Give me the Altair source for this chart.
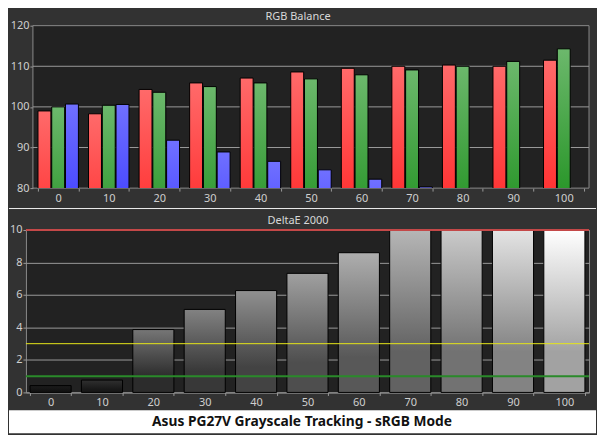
import altair as alt
import pandas as pd

steps = [0, 10, 20, 30, 40, 50, 60, 70, 80, 90, 100]
red = [99.0, 98.3, 104.3, 105.9, 107.1, 108.6, 109.5, 110.0, 110.3, 110.0, 111.5]
green = [100.0, 100.4, 103.6, 105.0, 105.9, 106.9, 107.9, 109.1, 110.0, 111.2, 114.3]
blue = [100.7, 100.6, 91.8, 88.9, 86.6, 84.5, 82.2, 80.3, None, None, None]
delta_e = [0.42, 0.76, 3.87, 5.11, 6.27, 7.33, 8.6, 10.9, 11.6, 12.4, 13.9]
thresholds = [10, 3, 1]
rgb_ticks = [80, 90, 100, 110, 120]
de_ticks = [0, 2, 4, 6, 8, 10]
top_title = "RGB Balance"
bottom_title = "DeltaE 2000"
main_title = "Asus PG27V Grayscale Tracking - sRGB Mode"

# styles / layout
FONT = "Noto Sans"
LABEL = "#cfcfcf"
L = 17            # left overflow of the bottom y axis (column origin offset)
X0 = 8 + L        # page x of the column origin
SHIFT = 7         # extra indent of the top plot
FULL_W = 589
PW = 590 - X0
PH = 163
PLOT_BG = "#222222"
FRAME = "#8a8a8a"
GRID = "#9a9a9a"
channel_grad = {
    "R": ["#ff6a6a", "#ff1e1e", "#ff0000"],
    "G": ["#6cb86c", "#168c16", "#007800"],
    "B": ["#7070ff", "#2a2aff", "#0000ff"],
}
gray_top = ["#1c1c1c", "#303030", "#767676", "#828282", "#909090", "#a0a0a0",
            "#aeaeae", "#b6b6b6", "#cacaca", "#e4e4e4", "#ffffff"]
gray_bot = ["#121212", "#181818", "#2c2c2c", "#383838", "#434343", "#4e4e4e",
            "#585858", "#626262", "#727272", "#838383", "#a2a2a2"]
thr_colors = ["#c44848", "#e6e619", "#2a8a2a"]
thr_widths = [2, 1, 2]


def grad(cols, mid=0.4):
    return alt.Gradient(
        gradient="linear", x1=0, x2=0, y1=0, y2=1,
        stops=[alt.GradientStop(color=cols[0], offset=0),
               alt.GradientStop(color=cols[1], offset=mid),
               alt.GradientStop(color=cols[2], offset=1)],
    )


rgb_df = pd.DataFrame({
    "step": steps * 3,
    "channel": ["R"] * 11 + ["G"] * 11 + ["B"] * 11,
    "value": red + green + blue,
})
de_df = pd.DataFrame({"step": steps, "de": delta_e})
thr_df = pd.DataFrame({"t": thresholds})
tick_df = pd.DataFrame({"tick": rgb_ticks[1:-1]})
one = pd.DataFrame({"a": [0]})
no_view = alt.ViewBackground(stroke="transparent")

x_axis = alt.Axis(title=None, labelAngle=0, tickBand="extent", grid=False,
                  domain=False, tickSize=3, labelPadding=1)

# ---- header ----
h1 = alt.Chart(pd.DataFrame({"label": [top_title]})).mark_text(
    font=FONT, fontSize=11, color="#d8d8d8", baseline="middle", align="center"
).encode(text="label:N", x=alt.value(298 - X0), y=alt.value(7)).properties(
    width=PW, height=16, view=no_view
)

# ---- top panel (plot area indented by SHIFT inside the cell) ----
x_top = alt.X("step:O", scale=alt.Scale(domain=steps, range=[SHIFT, PW],
                                        paddingInner=0.2, paddingOuter=0.1), axis=x_axis)
y_scale_top = alt.Scale(domain=[80, 120], zero=False, nice=False)
y_axis_top = alt.Axis(title=None, values=rgb_ticks, grid=False, domain=False, labelOverlap=False,
                      tickSize=3, labelPadding=1, offset=-SHIFT)
top_bg = alt.Chart(one).mark_rect(fill=PLOT_BG, stroke=FRAME, strokeWidth=1).encode(
    x=alt.value(SHIFT), x2=alt.value(PW), y=alt.value(0), y2=alt.value(PH)
)
top_grid = alt.Chart(tick_df).mark_rule(color=GRID, strokeWidth=1).encode(
    x=alt.value(SHIFT), x2=alt.value(PW),
    y=alt.Y("tick:Q", scale=y_scale_top, axis=y_axis_top),
)
top_layers = [top_bg, top_grid]
for ch in ["R", "G", "B"]:
    top_layers.append(
        alt.Chart(rgb_df).transform_filter(alt.datum.channel == ch)
        .mark_bar(color=grad(channel_grad[ch]), stroke="black", strokeWidth=1, clip=True)
        .encode(
            x=x_top,
            xOffset=alt.XOffset("channel:N", scale=alt.Scale(domain=["R", "G", "B"], paddingInner=0.06)),
            y=alt.Y("value:Q", scale=y_scale_top, axis=y_axis_top),
        )
    )
top = alt.layer(*top_layers).properties(width=PW, height=PH, view=no_view)

# ---- separator + second header ----
sep_line = alt.Chart(one).mark_rule(color="#f0f0f0", strokeWidth=1).encode(
    x=alt.value(-L), x2=alt.value(FULL_W - L), y=alt.value(20.5)
)
sep_text = alt.Chart(pd.DataFrame({"label": [bottom_title]})).mark_text(
    font=FONT, fontSize=11, color="#d8d8d8", baseline="middle", align="center"
).encode(text="label:N", x=alt.value(298 - X0), y=alt.value(33.5))
sep = alt.layer(sep_line, sep_text).properties(width=PW, height=42, view=no_view)

# ---- bottom panel ----
x_bot = alt.X("step:O", scale=alt.Scale(domain=steps, paddingInner=0.2, paddingOuter=0.08), axis=x_axis)
de_scale = alt.Scale(domain=[0, 10], nice=False, clamp=True)
de_axis = alt.Axis(title=None, values=de_ticks, grid=True, domain=False, labelOverlap=False,
                   tickSize=3, labelPadding=1)
bot_layers = []
for i, s in enumerate(steps):
    bot_layers.append(
        alt.Chart(de_df).transform_filter(alt.datum.step == s)
        .mark_bar(color=grad([gray_top[i], gray_bot[i], gray_bot[i]], mid=0.75),
                  stroke="black", strokeWidth=1)
        .encode(x=x_bot, y=alt.Y("de:Q", scale=de_scale, axis=de_axis))
    )
for i, t in enumerate(thresholds):
    bot_layers.append(
        alt.Chart(thr_df).transform_filter(alt.datum.t == t)
        .mark_rule(color=thr_colors[i], strokeWidth=thr_widths[i])
        .encode(y=alt.Y("t:Q", scale=de_scale, axis=de_axis))
    )
bottom = alt.layer(*bot_layers).properties(
    width=PW, height=PH,
    view=alt.ViewBackground(fill=PLOT_BG, stroke=FRAME),
)

# ---- caption panel ----
cap_bg = alt.Chart(one).mark_rect(color="white").encode(
    x=alt.value(-L), x2=alt.value(FULL_W - L), y=alt.value(18), y2=alt.value(41)
)
cap_text = alt.Chart(pd.DataFrame({"label": [main_title]})).mark_text(
    font=FONT, fontSize=13.8, fontWeight="bold", color="#111111", baseline="middle", align="center"
).encode(text="label:N", x=alt.value(302 - X0), y=alt.value(30))
cap = alt.layer(cap_bg, cap_text).properties(width=PW, height=41, view=no_view)

chart = alt.ConcatChart(
    concat=[h1, top, sep, bottom, cap], columns=1, spacing=0, bounds="flush"
).properties(
    background="#323232", padding=0
).configure_axis(
    labelFont=FONT, labelFontSize=11, labelColor=LABEL,
    tickColor="#9a9a9a", gridColor=GRID, gridWidth=1,
)

chart.save("out.html", embed_options={"renderer": "svg", "actions": False})
